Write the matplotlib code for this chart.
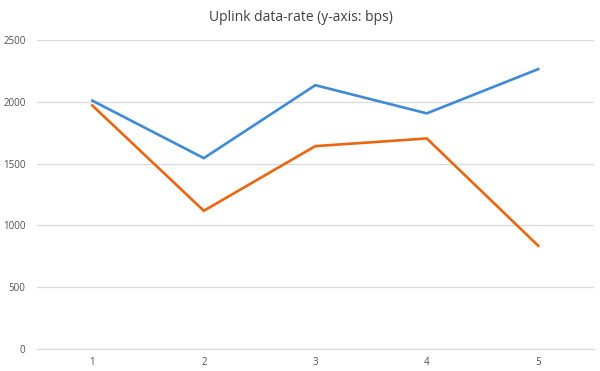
import matplotlib.pyplot as plt

runs = [1, 2, 3, 4, 5]
blue_rate = [2010, 1545, 2135, 1907, 2265]
orange_rate = [1971, 1119, 1642, 1704, 836]
y_ticks = [0, 500, 1000, 1500, 2000, 2500]

plt.rcParams['font.family'] = ['Open Sans', 'DejaVu Sans']

fig = plt.figure(figsize=(6, 3.71), dpi=100)
ax = fig.add_axes([0.061, 0.059, 0.929, 0.833])

ax.plot(runs, blue_rate, color='#3f8ad6', linewidth=1.9, solid_joinstyle='miter')
ax.plot(runs, orange_rate, color='#ec6510', linewidth=1.9, solid_joinstyle='miter')

ax.set_xlim(0.5, 5.5)
ax.set_ylim(0, 2500)
ax.set_xticks(runs)
ax.set_yticks(y_ticks)
ax.grid(True, axis='y', color='#d9d9d9', linewidth=0.9)
ax.set_axisbelow(True)
for side in ['top', 'right', 'left']:
    ax.spines[side].set_visible(False)
ax.spines['bottom'].set_color('#d9d9d9')
ax.tick_params(length=0, labelsize=7, labelcolor='#505050', pad=8)
ax.tick_params(axis='x', pad=6)

fig.text(0.502, 0.952, 'Uplink data-rate (y-axis: bps)', ha='center', va='center',
         fontsize=10, color='#404040')

fig.savefig('out.png')
